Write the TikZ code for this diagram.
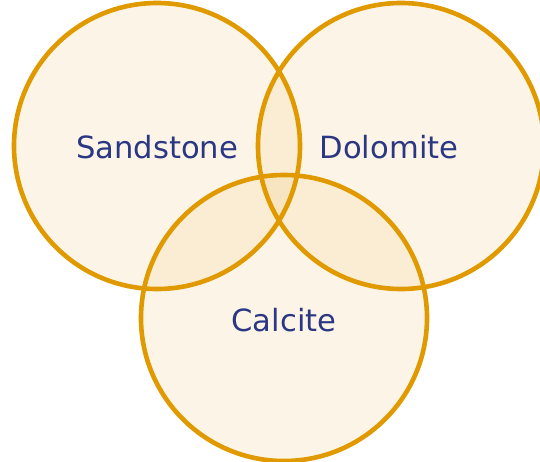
\documentclass[tikz,border=0pt]{standalone}
\usepackage{fontspec}
\setmainfont{DejaVu Sans}
\definecolor{ring}{RGB}{224,154,0}
\definecolor{setfill}{RGB}{235,188,95}
\definecolor{labelc}{RGB}{43,55,130}
\begin{document}
\begin{tikzpicture}[x=1pt,y=-1pt,
  setfillstyle/.style={fill=setfill,fill opacity=0.15,draw=none},
  setring/.style={draw=ring,line width=4.6pt},
  setlabel/.style={text=labelc,font=\fontsize{30.6}{36}\selectfont,inner sep=0pt}]
\useasboundingbox (0,0) rectangle (540,461);
\coordinate (cs) at (157,146);
\coordinate (cd) at (401,146);
\coordinate (cc) at (284,318);
\fill[setfillstyle] (cs) circle[radius=143];
\fill[setfillstyle] (cd) circle[radius=143];
\fill[setfillstyle] (cc) circle[radius=143];
\draw[setring] (cs) circle[radius=143];
\draw[setring] (cd) circle[radius=143];
\draw[setring] (cc) circle[radius=143];
\node[setlabel] (sand) at (157,147) {Sandstone};
\node[setlabel] (dolo) at (389,147) {Dolomite};
\node[setlabel] (calc) at (284,320) {Calcite};
\end{tikzpicture}
\end{document}
